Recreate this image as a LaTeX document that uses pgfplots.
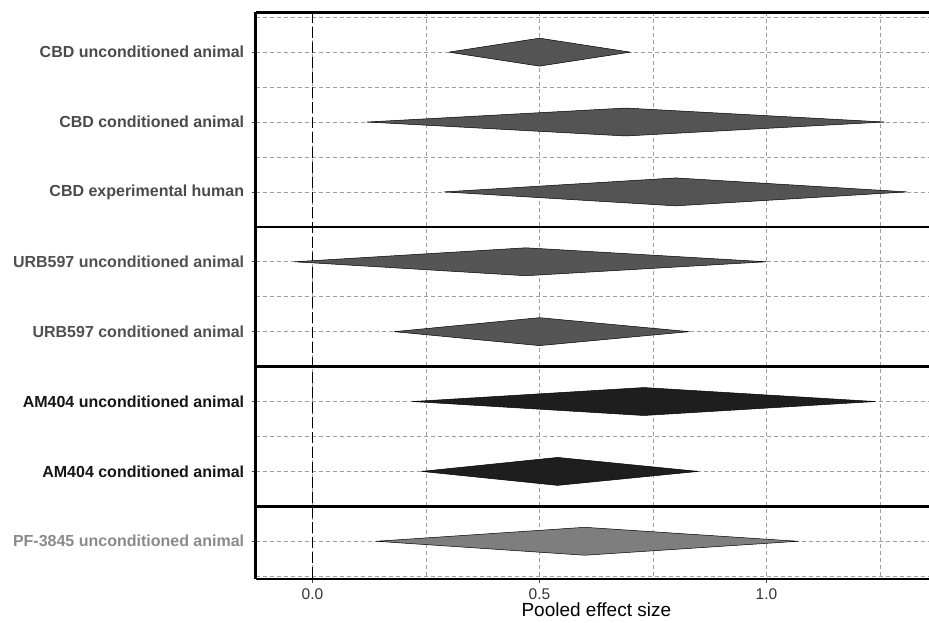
\documentclass[border=0pt]{standalone}
\usepackage{fontspec}
\setmainfont{Liberation Sans}
\usepackage{pgfplots}
\pgfplotsset{compat=1.18}

\definecolor{cbdfill}{HTML}{545454}
\definecolor{urbfill}{HTML}{555555}
\definecolor{amfill}{HTML}{1E1E1E}
\definecolor{pffill}{HTML}{7E7E7E}
\definecolor{cbdtext}{HTML}{4A4A4A}
\definecolor{urbtext}{HTML}{505050}
\definecolor{amtext}{HTML}{151515}
\definecolor{pftext}{HTML}{8A8A8A}

\begin{document}
\begin{tikzpicture}
\begin{axis}[
  at={(0pt,0pt)}, anchor=south west,
  scale only axis, width=673.3pt, height=566.7pt,
  xmin=-0.125, xmax=1.358,
  ymin=0.43, ymax=8.54, y dir=reverse,
  axis x line=box, axis y line=left,
  axis line style={-, line width=2.6pt, black},
  no markers,
  xtick={0,0.5,1}, xticklabels={0.0,0.5,1.0},
  minor xtick={0.25,0.75,1.25},
  ytick={1,...,8}, minor ytick={0.5,1.5,...,8.5},
  xtick pos=lower, ytick pos=left,
  grid=both,
  major grid style={gray!75, line width=0.7pt, dash pattern=on 4pt off 3pt},
  minor grid style={gray!75, line width=0.7pt, dash pattern=on 4pt off 3pt},
  tick align=outside, major tick length=4pt, minor tick length=0pt,
  tick style={black!70, line width=0.6pt},
  xticklabel style={font=\fontsize{15.5}{15.5}\selectfont, text=black!80, yshift=-2pt},
  xlabel={Pooled effect size},
  xlabel style={font=\fontsize{19}{19}\selectfont, text=black, yshift=4pt, xshift=4pt},
  yticklabel style={font=\bfseries\fontsize{16}{16}\selectfont, xshift=-4pt},
  yticklabels={
    {\color{cbdtext}CBD unconditioned animal},
    {\color{cbdtext}CBD conditioned animal},
    {\color{cbdtext}CBD experimental human\ },
    {\color{urbtext}URB597 unconditioned animal},
    {\color{urbtext}URB597 conditioned animal},
    {\color{amtext}AM404 unconditioned animal},
    {\color{amtext}AM404 conditioned animal},
    {\color{pftext}PF-3845 unconditioned animal}},
]
% null-effect reference line
\addplot[black, line width=1.2pt, dash pattern=on 11pt off 4pt] coordinates {(0,0.43) (0,8.54)};

% pooled-effect diamonds: (lower, estimate, upper) per row
\addplot[fill=cbdfill, draw=black, line width=0.5pt] coordinates {(0.30,1) (0.50,0.8) (0.70,1) (0.50,1.2) (0.30,1)};
\addplot[fill=cbdfill, draw=black, line width=0.5pt] coordinates {(0.12,2) (0.69,1.8) (1.26,2) (0.69,2.2) (0.12,2)};
\addplot[fill=cbdfill, draw=black, line width=0.5pt] coordinates {(0.29,3) (0.80,2.8) (1.31,3) (0.80,3.2) (0.29,3)};
\addplot[fill=urbfill, draw=black, line width=0.5pt] coordinates {(-0.04,4) (0.47,3.8) (1.00,4) (0.47,4.2) (-0.04,4)};
\addplot[fill=urbfill, draw=black, line width=0.5pt] coordinates {(0.18,5) (0.50,4.8) (0.83,5) (0.50,5.2) (0.18,5)};
\addplot[fill=amfill, draw=black, line width=0.5pt] coordinates {(0.22,6) (0.73,5.8) (1.24,6) (0.73,6.2) (0.22,6)};
\addplot[fill=amfill, draw=black, line width=0.5pt] coordinates {(0.24,7) (0.54,6.8) (0.85,7) (0.54,7.2) (0.24,7)};
\addplot[fill=pffill, draw=black, line width=0.5pt] coordinates {(0.14,8) (0.60,7.8) (1.07,8) (0.60,8.2) (0.14,8)};

% group separators
\addplot[black, line width=2.6pt] coordinates {(-0.125,3.5) (1.358,3.5)};
\addplot[black, line width=2.6pt] coordinates {(-0.125,5.5) (1.358,5.5)};
\addplot[black, line width=2.6pt] coordinates {(-0.125,7.5) (1.358,7.5)};
\end{axis}
\pgfresetboundingbox
\path (-255.7pt,-43pt) rectangle (673.3pt,579pt);
\end{tikzpicture}
\end{document}
